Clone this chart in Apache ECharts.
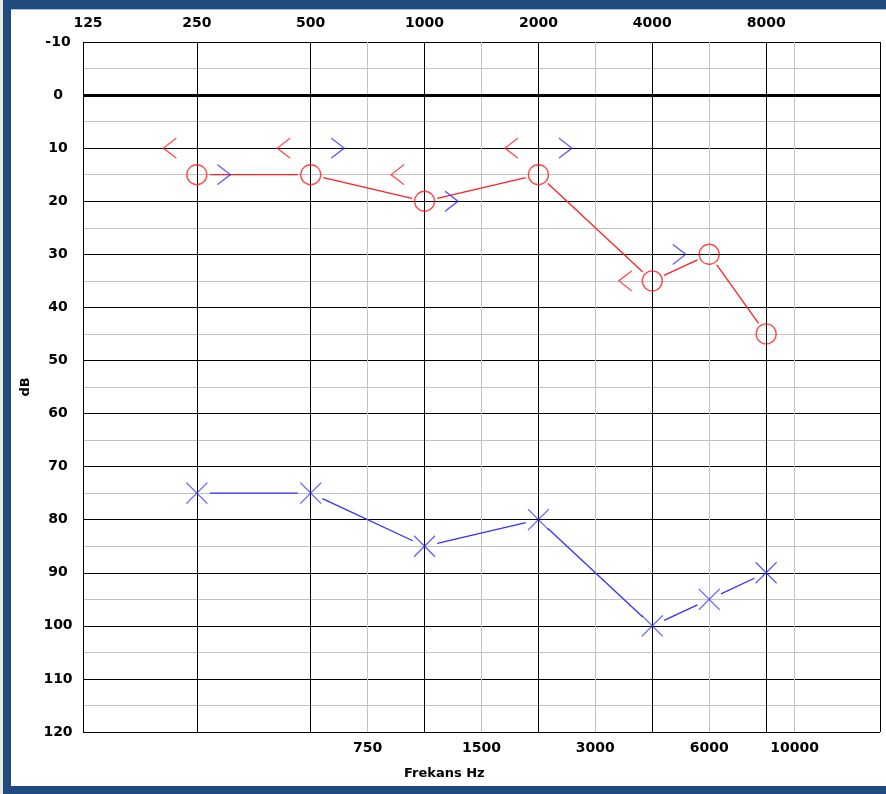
<!DOCTYPE html>
<html>
<head>
<meta charset="utf-8">
<script src="https://cdn.jsdelivr.net/npm/echarts@6/dist/echarts.min.js"></script>
<style>
  html, body { margin: 0; padding: 0; background: #ece9e0; }
  #frame { position: absolute; left: 3px; top: 0; width: 883px; height: 794px;
           box-sizing: border-box; background: #1f4b7e; }
  #chart { position: absolute; left: 8px; top: 9px; width: 875px; height: 777px; background: #fff;
           border-top: 1px solid #a9c0dc; box-sizing: border-box; }
</style>
</head>
<body>
<div id="frame"><div id="chart"></div></div>
<script>
// ---- data ----
var topFreqLabels = ['125', '250', '500', '1000', '2000', '4000', '8000'];
var bottomFreqLabels = ['750', '1500', '3000', '6000', '10000'];
var dbTicks = [-10, 0, 10, 20, 30, 40, 50, 60, 70, 80, 90, 100, 110, 120];

var acFreqs = [250, 500, 1000, 2000, 4000, 6000, 8000];
var acRight = [15, 15, 20, 15, 35, 30, 45];     // red circles
var acLeft  = [75, 75, 85, 80, 100, 95, 90];    // blue crosses

var bcFreqs = [250, 500, 1000, 2000, 4000];
var bcRight = [10, 10, 15, 10, 35];             // red "<"
var bcLeft  = [15, 10, 20, 10, 30];             // blue ">"

// ---- audiogram frequency scale: octaves equally spaced, linear in between ----
function audioPos(f) {
  var oct = Math.floor(Math.log2(f / 125) + 1e-9);
  var lo = 125 * Math.pow(2, oct);
  return oct + (f - lo) / lo;
}
var minorPositions = bottomFreqLabels.map(function (s) { return audioPos(+s); });

function pts(freqs, vals) {
  return freqs.map(function (f, i) { return [audioPos(f), vals[i]]; });
}
function segs(freqs, vals) {
  var p = pts(freqs, vals), out = [];
  for (var i = 0; i < p.length - 1; i++) out.push([p[i][0], p[i][1], p[i + 1][0], p[i + 1][1]]);
  return out;
}

var RED = '#ff1f1f', BLUE = '#3030ff';
var FONT = 'DejaVu Sans';

// split line colours for the minor (inter-octave) vertical grid, step 0.25
var minorStep = 0.25, xMax = 7;
var minorColors = [];
for (var k = 0; k <= xMax / minorStep; k++) {
  var v = k * minorStep;
  var hit = minorPositions.some(function (m) { return Math.abs(m - v) < 1e-6; });
  minorColors.push(hit ? '#c3c3c3' : 'rgba(0,0,0,0)');
}

function gapLine(color) {
  return function (params, api) {
    var a = api.coord([api.value(0), api.value(1)]);
    var b = api.coord([api.value(2), api.value(3)]);
    var dx = b[0] - a[0], dy = b[1] - a[1];
    var len = Math.sqrt(dx * dx + dy * dy), g = 13;
    var ux = dx / len, uy = dy / len;
    return {
      type: 'line',
      shape: { x1: a[0] + ux * g, y1: a[1] + uy * g, x2: b[0] - ux * g, y2: b[1] - uy * g },
      style: { stroke: color, lineWidth: 1.3 }
    };
  };
}

var chart = echarts.init(document.getElementById('chart'), null, { renderer: 'canvas' });
chart.setOption({
  animation: false,
  backgroundColor: '#fff',
  grid: { left: 72, top: 32, right: 6, bottom: 54 },
  xAxis: [
    {
      type: 'value', position: 'top', min: 0, max: xMax, interval: 1,
      axisLine: { show: false }, axisTick: { show: false },
      axisLabel: {
        margin: 12, fontFamily: FONT, fontWeight: 'bold', fontSize: 14, color: '#000',
        formatter: function (v) {
          var i = Math.round(v);
          if (i === 0) return '{first|' + topFreqLabels[0] + '}';
          return topFreqLabels[i] || '';
        },
        rich: { first: { fontFamily: FONT, fontWeight: 'bold', fontSize: 14, color: '#000', padding: [0, 0, 0, 10] } }
      },
      splitLine: { show: true, lineStyle: { color: '#000', width: 1 } },
      z: 1
    },
    {
      type: 'value', position: 'bottom', min: 0, max: xMax, interval: minorStep,
      axisLine: { show: false }, axisTick: { show: false },
      axisLabel: {
        margin: 9, fontFamily: FONT, fontWeight: 'bold', fontSize: 14, color: '#000',
        formatter: function (v) {
          for (var i = 0; i < minorPositions.length; i++)
            if (Math.abs(minorPositions[i] - v) < 1e-6) return bottomFreqLabels[i];
          return '';
        }
      },
      splitLine: { show: true, lineStyle: { color: minorColors, width: 1 } },
      z: 0
    }
  ],
  yAxis: {
    type: 'value', inverse: true, min: dbTicks[0], max: dbTicks[dbTicks.length - 1], interval: 5,
    name: 'dB', nameLocation: 'middle', nameGap: 47, nameRotate: 90,
    nameTextStyle: { fontFamily: FONT, fontWeight: 'bold', fontSize: 13, color: '#000' },
    axisLine: { show: false }, axisTick: { show: false },
    axisLabel: {
      margin: 25, align: 'center', fontFamily: FONT, fontWeight: 'bold', fontSize: 14, color: '#000',
      formatter: function (v) { return dbTicks.indexOf(v) >= 0 ? String(v) : ''; }
    },
    splitLine: { show: true, lineStyle: { color: ['#000', '#c3c3c3'], width: 1 } }
  },
  graphic: [{
    type: 'text', left: 393, top: 757,
    style: { text: 'Frekans Hz', font: 'bold 13px "DejaVu Sans"', fill: '#000' }
  }],
  series: [
    {
      type: 'line', data: [], silent: true,
      markLine: {
        silent: true, symbol: 'none', label: { show: false },
        lineStyle: { color: '#000', width: 3, type: 'solid' },
        data: [{ yAxis: 0 }]
      }
    },
    { type: 'custom', renderItem: gapLine(RED), data: segs(acFreqs, acRight), silent: true, z: 3 },
    { type: 'custom', renderItem: gapLine(BLUE), data: segs(acFreqs, acLeft), silent: true, z: 3 },
    {
      type: 'scatter', data: pts(acFreqs, acRight), symbol: 'circle', symbolSize: 20,
      itemStyle: { color: 'rgba(0,0,0,0)', borderColor: RED, borderWidth: 1.4 }, z: 4
    },
    {
      type: 'scatter', data: pts(acFreqs, acLeft), symbol: 'path://M0,0 L20,20 M20,0 L0,20',
      symbolSize: 21, itemStyle: { color: 'rgba(0,0,0,0)', borderColor: BLUE, borderWidth: 1.2 }, z: 4
    },
    {
      type: 'scatter', data: pts(bcFreqs, bcRight), symbol: 'path://M13,0 L0,10 L13,20',
      symbolSize: [13, 20], symbolOffset: [-27, 0],
      itemStyle: { color: 'rgba(0,0,0,0)', borderColor: RED, borderWidth: 1.2 }, z: 4
    },
    {
      type: 'scatter', data: pts(bcFreqs, bcLeft), symbol: 'path://M0,0 L13,10 L0,20',
      symbolSize: [13, 20], symbolOffset: [27, 0],
      itemStyle: { color: 'rgba(0,0,0,0)', borderColor: BLUE, borderWidth: 1.2 }, z: 4
    }
  ]
});
</script>
</body>
</html>
